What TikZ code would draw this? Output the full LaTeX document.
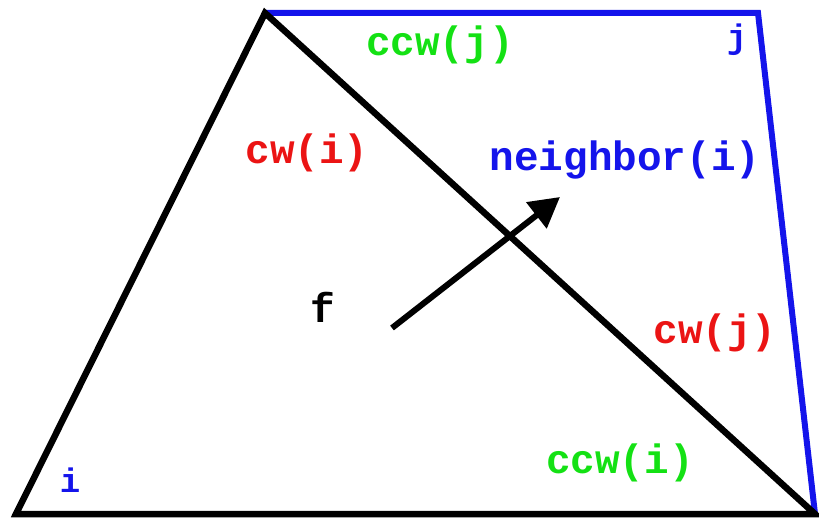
\documentclass[tikz,border=0pt]{standalone}
\usepackage{fontspec}
\newfontfamily\cour{Liberation Mono}
\usetikzlibrary{arrows.meta}
\definecolor{lgreen}{RGB}{20,225,20}
\definecolor{lred}{RGB}{235,20,20}
\definecolor{lblue}{RGB}{20,20,235}
\tikzset{
  lbl/.style={font=\cour\bfseries\fontsize{41}{41}\selectfont, inner sep=0pt},
  vlbl/.style={font=\cour\bfseries\fontsize{34}{34}\selectfont, inner sep=0pt},
  edge/.style={line width=6.5pt, line join=miter},
  bedge/.style={line width=6pt, draw=lblue, line join=miter}
}
\begin{document}
\begin{tikzpicture}[x=1pt,y=-1pt]
\useasboundingbox (0,0) rectangle (819,521);
\coordinate (A) at (16,514);
\coordinate (B) at (265,13);
\coordinate (C) at (815,514);
\coordinate (D) at (758,13);
\coordinate (fs) at (392,328);
\coordinate (fe) at (560,197);
\draw[bedge] (B) -- (D) -- (C);
\draw[edge] (C) -- (A) -- (B) -- (C) -- cycle;
\draw[line width=6pt, -{Triangle[length=30pt,width=32pt]}] (fs) -- (fe);
\node[lbl, text=lgreen] (ccwj) at (440,45) {ccw(j)};
\node[lbl, text=lred] (cwi) at (307,153) {cw(i)};
\node[lbl, text=lblue] (nb) at (625,160) {neighbor(i)};
\node[lbl, text=black] (f) at (323,307) {f};
\node[lbl, text=lred] (cwj) at (715,333) {cw(j)};
\node[lbl, text=lgreen] (ccwi) at (620,463) {ccw(i)};
\node[vlbl, text=lblue] (i) at (70,480) {i};
\node[vlbl, text=lblue] (j) at (737,40) {j};
\end{tikzpicture}
\end{document}
